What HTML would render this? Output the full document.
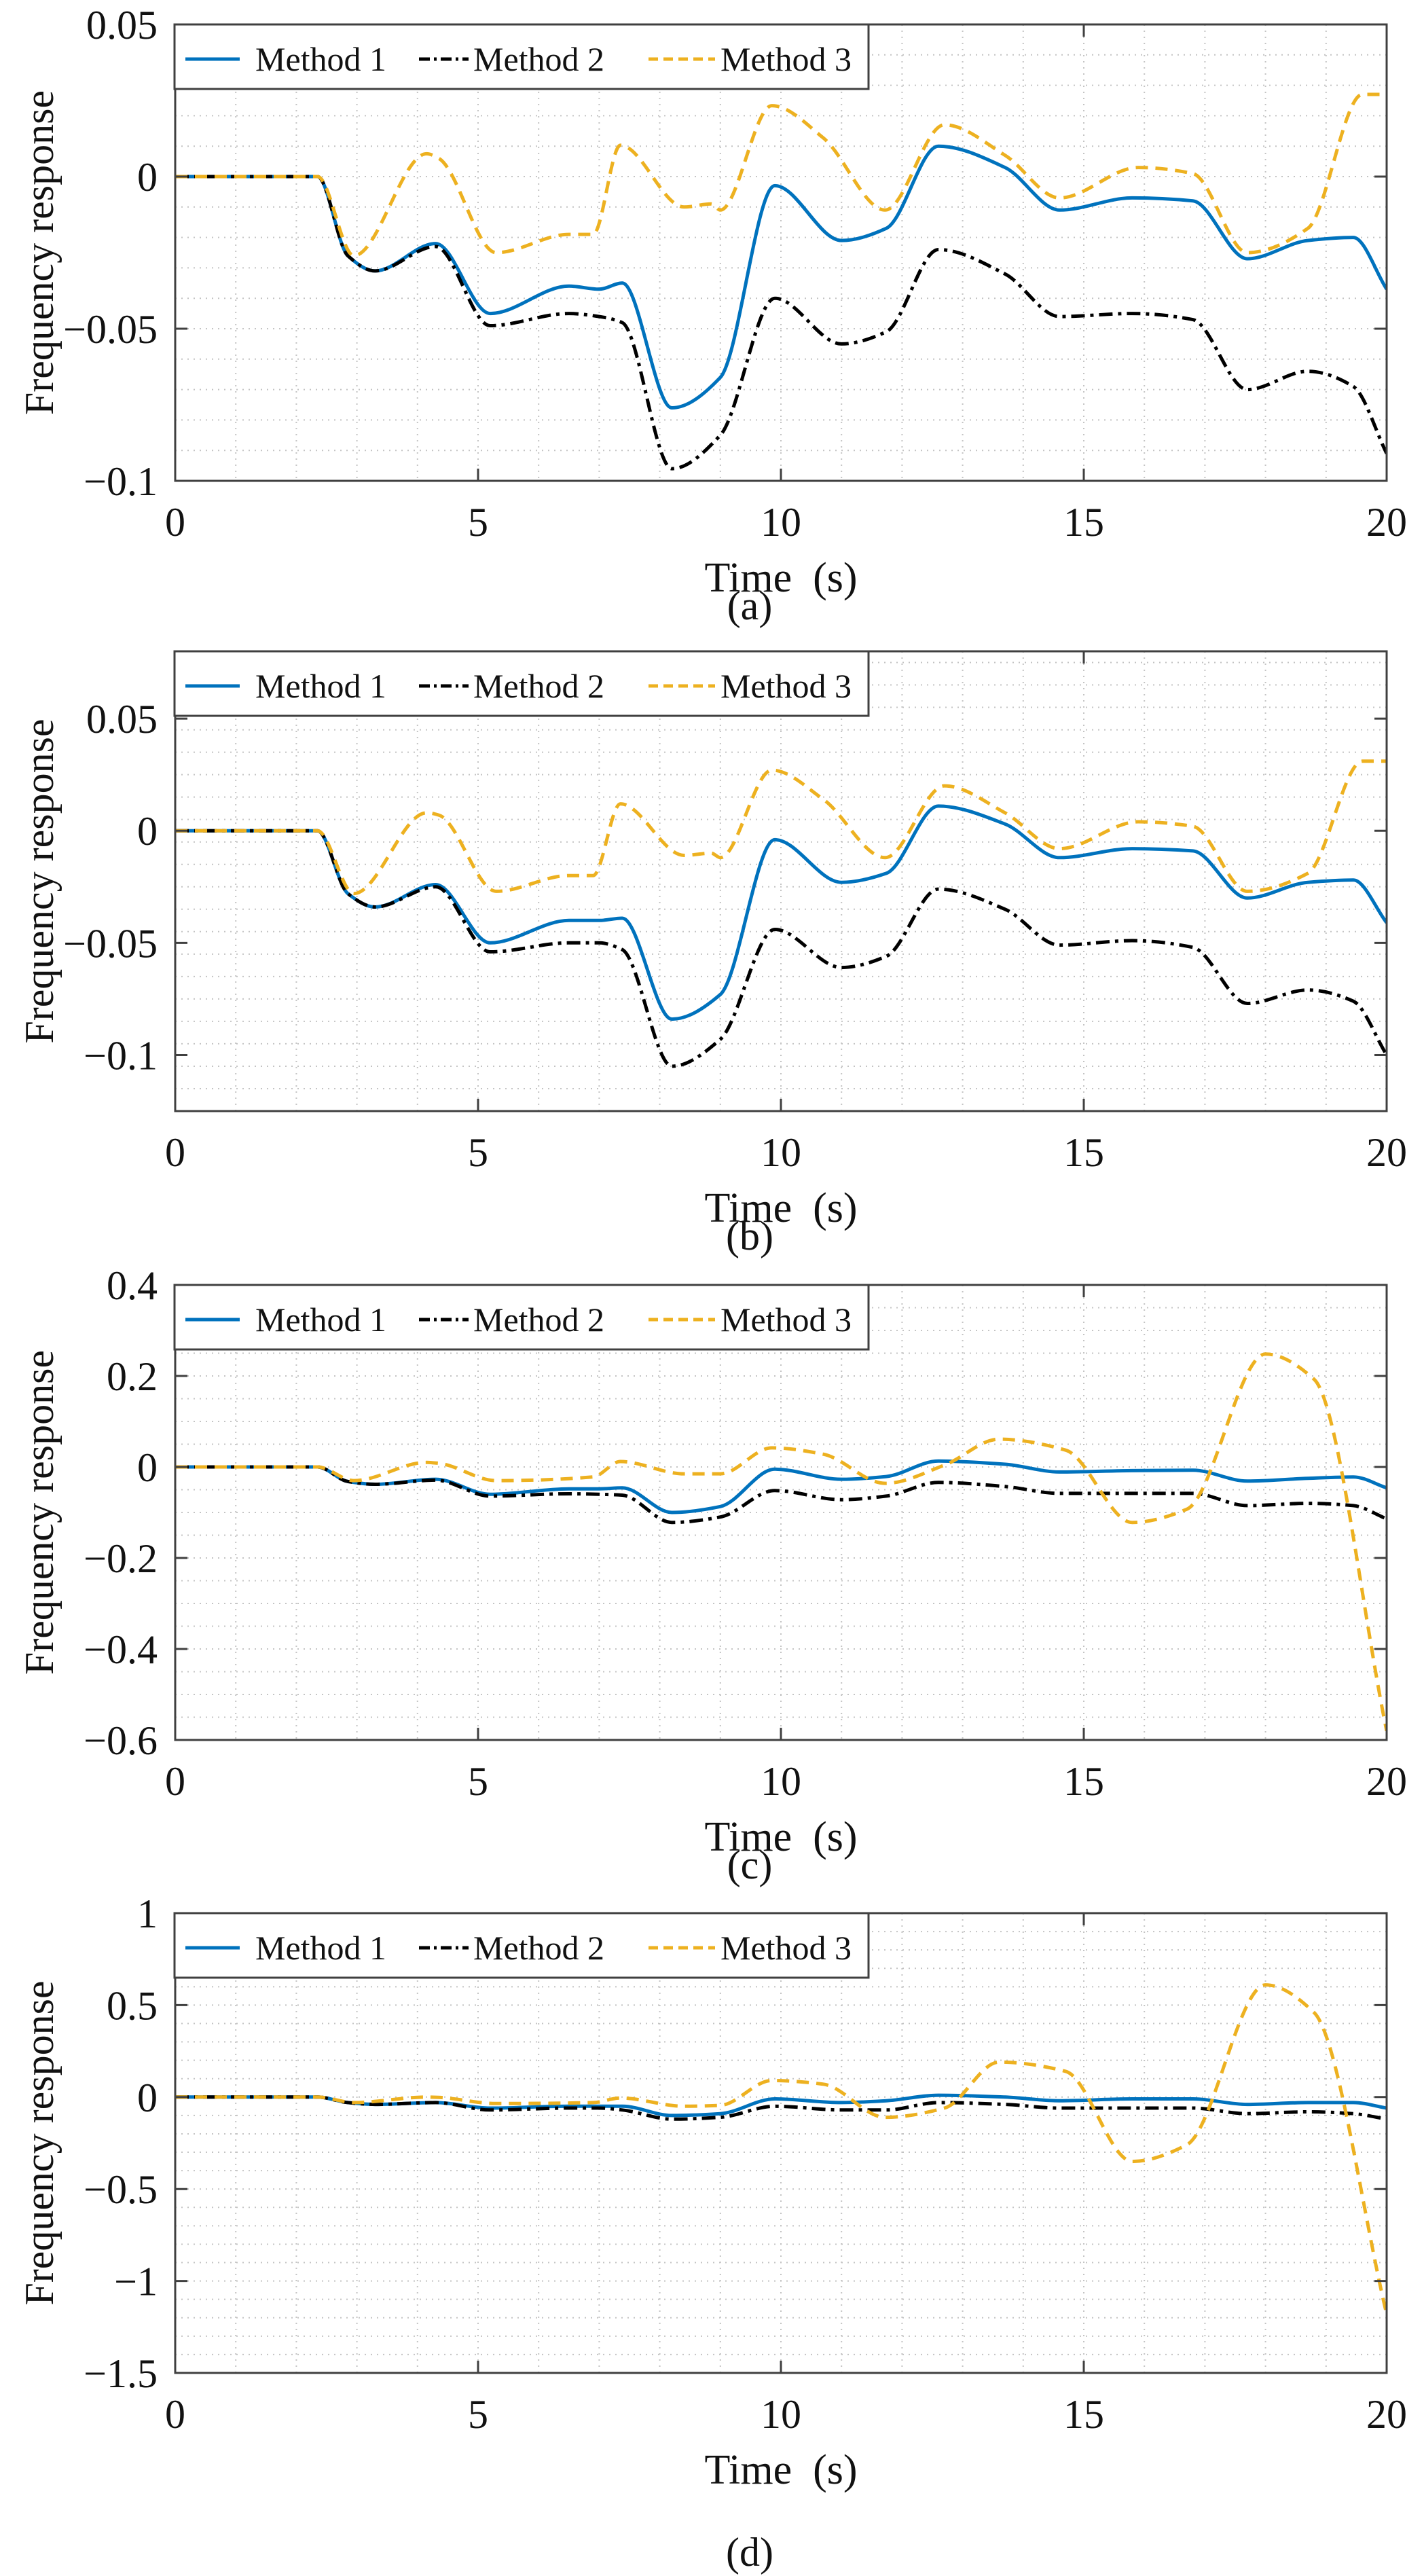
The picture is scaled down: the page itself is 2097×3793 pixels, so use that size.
<!DOCTYPE html>
<html><head><meta charset="utf-8">
<style>
html,body{margin:0;padding:0;background:#fff;}
svg{display:block;font-family:"Liberation Serif",serif;}
</style></head>
<body>
<svg id="fig" width="2097" height="3793" viewBox="0 0 2097 3793" xmlns="http://www.w3.org/2000/svg"></svg>
<script>
// ---------- data ----------
const tM12 = [0,2.35,2.85,3.3,4.3,5.2,6.5,7.0,7.38,8.2,9.0,9.9,11.0,11.74,12.6,13.7,14.6,15.8,16.8,17.7,18.7,19.45,20];
const m1a = [0,0,-0.026,-0.031,-0.022,-0.045,-0.036,-0.037,-0.035,-0.076,-0.066,-0.003,-0.021,-0.017,0.010,0.003,-0.011,-0.007,-0.008,-0.027,-0.021,-0.020,-0.037];
const m2a = [0,0,-0.026,-0.031,-0.023,-0.049,-0.045,-0.046,-0.048,-0.096,-0.085,-0.040,-0.055,-0.051,-0.024,-0.032,-0.046,-0.045,-0.047,-0.070,-0.064,-0.069,-0.091];
const m1b = [0,0,-0.028,-0.034,-0.024,-0.050,-0.040,-0.040,-0.039,-0.084,-0.073,-0.004,-0.023,-0.019,0.011,0.003,-0.012,-0.008,-0.009,-0.030,-0.023,-0.022,-0.041];
const m2b = [0,0,-0.028,-0.034,-0.025,-0.054,-0.050,-0.050,-0.053,-0.105,-0.093,-0.044,-0.061,-0.056,-0.026,-0.035,-0.051,-0.049,-0.052,-0.077,-0.071,-0.076,-0.100];
const m1c = [0,0,-0.032,-0.038,-0.027,-0.060,-0.048,-0.048,-0.046,-0.100,-0.087,-0.005,-0.027,-0.021,0.013,0.006,-0.011,-0.008,-0.007,-0.031,-0.025,-0.022,-0.046];
const m2c = [0,0,-0.032,-0.038,-0.029,-0.064,-0.059,-0.060,-0.062,-0.122,-0.110,-0.052,-0.072,-0.064,-0.034,-0.043,-0.058,-0.058,-0.058,-0.085,-0.080,-0.085,-0.114];
const m1d = [0,0,-0.03,-0.04,-0.03,-0.06,-0.05,-0.05,-0.05,-0.10,-0.09,-0.01,-0.03,-0.02,0.01,0.00,-0.02,-0.01,-0.01,-0.04,-0.03,-0.03,-0.06];
const m2d = [0,0,-0.03,-0.04,-0.03,-0.07,-0.06,-0.06,-0.07,-0.12,-0.11,-0.05,-0.07,-0.07,-0.03,-0.04,-0.06,-0.06,-0.06,-0.09,-0.08,-0.09,-0.12];
const tM3ab = [0,2.35,2.95,4.15,4.35,5.3,6.5,6.9,7.35,8.4,8.85,9.0,9.85,10.7,11.72,12.7,13.7,14.6,15.9,16.8,17.7,18.7,19.6,20];
const m3a = [0,0,-0.026,0.0075,0.006,-0.025,-0.019,-0.019,0.0103,-0.010,-0.009,-0.011,0.0233,0.0127,-0.011,0.017,0.007,-0.007,0.003,0.001,-0.025,-0.017,0.027,0.027];
const m3b = [0,0,-0.028,0.008,0.007,-0.027,-0.020,-0.020,0.012,-0.011,-0.010,-0.012,0.027,0.014,-0.012,0.020,0.008,-0.008,0.004,0.002,-0.027,-0.019,0.031,0.031];
const tM3cd = [0,2.35,2.95,4.15,4.35,5.3,6.9,7.35,8.4,9.0,9.85,10.7,11.72,12.7,13.6,14.7,15.8,16.7,18.0,18.8,20];
const m3c = [0,0,-0.03,0.01,0.008,-0.03,-0.022,0.012,-0.015,-0.015,0.042,0.028,-0.036,0.004,0.061,0.037,-0.122,-0.093,0.248,0.193,-0.58];
const m3d = [0,0,-0.03,0.0,-0.002,-0.035,-0.03,-0.005,-0.05,-0.045,0.09,0.07,-0.11,-0.06,0.19,0.14,-0.35,-0.26,0.61,0.46,-1.18];
const xTicks = [0,5,10,15,20];
const yTicksA = [0.05,0,-0.05,-0.1];
const yLabelsA = ["0.05","0","\u22120.05","\u22120.1"];
const yTicksB = [0.05,0,-0.05,-0.1];
const yLabelsB = ["0.05","0","\u22120.05","\u22120.1"];
const yTicksC = [0.4,0.2,0,-0.2,-0.4,-0.6];
const yLabelsC = ["0.4","0.2","0","\u22120.2","\u22120.4","\u22120.6"];
const yTicksD = [1,0.5,0,-0.5,-1,-1.5];
const yLabelsD = ["1","0.5","0","\u22120.5","\u22121","\u22121.5"];
const captions = ["(a)","(b)","(c)","(d)"];

// ---------- drawing ----------
const NS="http://www.w3.org/2000/svg";
const svg=document.getElementById('fig');
function mk(tag,attrs,parent){const e=document.createElementNS(NS,tag);for(const k in attrs)e.setAttribute(k,attrs[k]);(parent||svg).appendChild(e);return e;}
const X0=258,X1=2042;
function sx(t){return X0+(t/20)*(X1-X0);}

// monotone cubic (Fritsch–Carlson) path
function smoothPath(xs,ys){
  const n=xs.length;
  const d=[],m=new Array(n);
  for(let i=0;i<n-1;i++)d.push((ys[i+1]-ys[i])/(xs[i+1]-xs[i]));
  m[0]=d[0];m[n-1]=d[n-2];
  for(let i=1;i<n-1;i++){
    if(d[i-1]*d[i]<=0)m[i]=0;
    else{const w1=2*(xs[i+1]-xs[i])+(xs[i]-xs[i-1]),w2=(xs[i+1]-xs[i])+2*(xs[i]-xs[i-1]);m[i]=(w1+w2)/(w1/d[i-1]+w2/d[i]);}
  }
  let p='M'+xs[0].toFixed(1)+','+ys[0].toFixed(1);
  for(let i=0;i<n-1;i++){
    const h=xs[i+1]-xs[i];
    p+=' C'+(xs[i]+h/3).toFixed(1)+','+(ys[i]+m[i]*h/3).toFixed(1)+' '+(xs[i+1]-h/3).toFixed(1)+','+(ys[i+1]-m[i+1]*h/3).toFixed(1)+' '+xs[i+1].toFixed(1)+','+ys[i+1].toFixed(1);
  }
  return p;
}

const panels=[
  {top:36,bot:708,ymin:-0.1,ymax:0.05,minor:0.01,ticks:yTicksA,labels:yLabelsA,s1:m1a,s2:m2a,t3:tM3ab,s3:m3a,cap:170,time:142},
  {top:959,bot:1636,ymin:-0.125,ymax:0.08,minor:0.01,ticks:yTicksB,labels:yLabelsB,s1:m1b,s2:m2b,t3:tM3ab,s3:m3b,cap:170,time:142},
  {top:1892,bot:2562,ymin:-0.6,ymax:0.4,minor:0.05,ticks:yTicksC,labels:yLabelsC,s1:m1c,s2:m2c,t3:tM3cd,s3:m3c,cap:170,time:142},
  {top:2817,bot:3494,ymin:-1.5,ymax:1,minor:0.1,ticks:yTicksD,labels:yLabelsD,s1:m1d,s2:m2d,t3:tM3cd,s3:m3d,cap:250,time:142}
];

panels.forEach((p,pi)=>{
  const g=mk('g',{});
  
  
  const sy=v=>p.bot-(v-p.ymin)/(p.ymax-p.ymin)*(p.bot-p.top);
  const grid=mk('g',{stroke:'#c4c4c4','stroke-width':2,'stroke-dasharray':'2 7'},g);
  
  
  for(let t=1;t<20;t++){mk('line',{x1:sx(t),x2:sx(t),y1:p.top,y2:p.bot},grid);}
  const nMin=Math.round((p.ymax-p.ymin)/p.minor);
  for(let i=1;i<nMin+1;i++){const v=p.ymin+i*p.minor;const y=sy(v);if(y>p.top+2&&y<p.bot-2)mk('line',{x1:X0,x2:X1,y1:y,y2:y},grid);}
  const defs=[
    {ts:tM12,vs:p.s1,col:'#0072BD',dash:'',name:'method-1-line'},
    {ts:tM12,vs:p.s2,col:'#000000',dash:'20 8 5 8',name:'method-2-line'},
    {ts:p.t3,vs:p.s3,col:'#EDB120',dash:'18 11',name:'method-3-line'}
  ];
  const clipId='clip'+pi;
  const cp=mk('clipPath',{id:clipId},g);mk('rect',{x:X0,y:p.top,width:X1-X0,height:p.bot-p.top},cp);
  defs.forEach(s=>{
    const xs=s.ts.map(sx),ys=s.vs.map(sy);
    const a={d:smoothPath(xs,ys),fill:'none',stroke:s.col,'stroke-width':5,'stroke-linejoin':'round','clip-path':'url(#'+clipId+')'};
    if(s.dash)a['stroke-dasharray']=s.dash;
    const el=mk('path',a,g);
    
    
  });
  const box=mk('rect',{x:X0,y:p.top,width:X1-X0,height:p.bot-p.top,fill:'none',stroke:'#404040','stroke-width':3},g);
  
  
  xTicks.forEach(t=>{
    mk('line',{x1:sx(t),x2:sx(t),y1:p.bot,y2:p.bot-18,stroke:'#404040','stroke-width':3},g);
    mk('line',{x1:sx(t),x2:sx(t),y1:p.top,y2:p.top+18,stroke:'#404040','stroke-width':3},g);
    const tx=mk('text',{x:sx(t),y:p.bot+81,'font-size':60,'text-anchor':'middle',fill:'#111'},g);
    tx.textContent=String(t);
    
    
  });
  p.ticks.forEach((v,i)=>{
    const y=sy(v);
    mk('line',{x1:X0,x2:X0+18,y1:y,y2:y,stroke:'#404040','stroke-width':3},g);
    mk('line',{x1:X1,x2:X1-18,y1:y,y2:y,stroke:'#404040','stroke-width':3},g);
    const ty=mk('text',{x:232,y:y+21,'font-size':60,'text-anchor':'end',fill:'#111'},g);
    ty.textContent=p.labels[i];
    
    
  });
  const xl=mk('text',{x:1150,y:p.bot+p.time+21,'font-size':62,'text-anchor':'middle',fill:'#111'},g);
  xl.textContent='Time\u00a0\u00a0(s)';
  
  
  const cy=(p.top+p.bot)/2;
  const yl=mk('text',{x:0,y:0,'font-size':60,'text-anchor':'middle',fill:'#111',transform:'translate(78,'+cy+') rotate(-90)'},g);
  yl.textContent='Frequency response';
  
  
  const cap=mk('text',{x:1104,y:p.bot+p.cap+34,'font-size':60,'text-anchor':'middle',fill:'#111'},g);
  cap.textContent=captions[pi];
  
  
  const lg=mk('g',{},g);
  
  
  mk('rect',{x:257,y:p.top,width:1022,height:95,fill:'#fff',stroke:'#404040','stroke-width':3},lg);
  const ly=p.top+51;
  const items=[
    {x1:273,x2:353,tx:376,col:'#0072BD',dash:'',label:'Method 1'},
    {x1:617,x2:690,tx:697,col:'#000',dash:'16 6 4 6',label:'Method 2'},
    {x1:955,x2:1053,tx:1061,col:'#EDB120',dash:'14 8',label:'Method 3'}
  ];
  items.forEach(it=>{
    const le=mk('g',{},lg);
    
    
    const a={x1:it.x1,x2:it.x2,y1:ly,y2:ly,stroke:it.col,'stroke-width':5};
    if(it.dash)a['stroke-dasharray']=it.dash;
    mk('line',a,le);
    const t=mk('text',{x:it.tx,y:ly+17,'font-size':50,fill:'#111'},le);
    t.textContent=it.label;
  });
});
</script>
</body></html>
